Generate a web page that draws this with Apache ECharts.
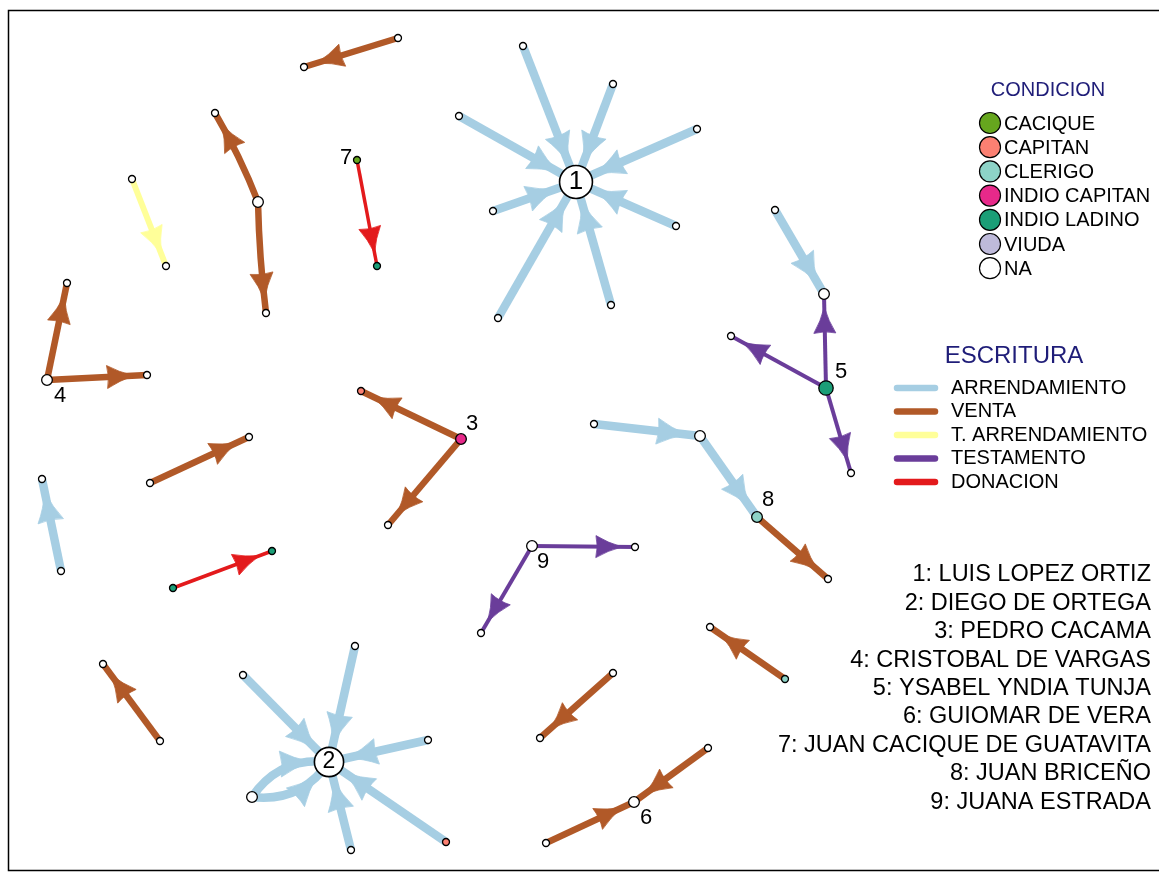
<!DOCTYPE html>
<html><head><meta charset="utf-8">
<script src="https://cdn.jsdelivr.net/npm/echarts@6/dist/echarts.min.js"></script>
<style>html,body{margin:0;padding:0;background:#fff}#c{width:1159px;height:876px}</style>
</head><body><div id="c"></div>
<script>
// ---------- DATA ----------
const nodeX = [576,523,613,459,697,493,676,498,611, 398,304, 258,215,266, 132,166, 357,377, 47,67,147, 150,249, 61,42, 173,272, 461,361,388, 160,103,
  329,243,355,428,252,351,446, 826,824,731,851,775, 594,700,757,828, 532,635,481, 785,710, 613,540, 634,708,546];
const nodeY = [182,46,84,116,129,211,226,318,305, 38,67, 202,113,313, 179,266, 160,266, 380,283,375, 483,437, 571,479, 588,551, 439,391,525, 741,664,
  762,675,646,740,797,850,842, 388,294,336,473,210, 424,436,517,579, 546,547,633, 679,627, 673,738, 802,748,843];
const nodeCond = ['NA','NA','NA','NA','NA','NA','NA','NA','NA', 'NA','NA', 'NA','NA','NA', 'NA','NA', 'CACIQUE','INDIO LADINO', 'NA','NA','NA', 'NA','NA', 'NA','NA',
  'INDIO LADINO','INDIO LADINO', 'INDIO CAPITAN','CAPITAN','NA', 'NA','NA',
  'NA','NA','NA','NA','NA','NA','CAPITAN', 'INDIO LADINO','NA','NA','NA','NA', 'NA','NA','CLERIGO','NA', 'NA','NA','NA', 'CLERIGO','NA', 'NA','NA', 'NA','NA','NA'];
const nodeLabel = ['1','','','','','','','','', '','', '','','', '','', '7','', '4','','', '','', '','', '','', '3','','', '','',
  '2','','','','','','', '5','','','','', '','','8','', '9','','', '','', '','', '6','',''];
const edgeSource = [1,2,3,4,5,6,7,8, 9, 11,11, 14, 16, 18,18, 21, 23, 25, 27,27, 30, 33,34,35,36,36,37,38, 39,39,39, 43, 44,45, 46, 48,48, 51, 53, 56,57];
const edgeTarget = [0,0,0,0,0,0,0,0, 10, 12,13, 15, 17, 19,20, 22, 24, 26, 28,29, 31, 32,32,32,32,32,32,32, 40,41,42, 40, 45,46, 47, 49,50, 52, 54, 55,55];
const edgeType = ['ARRENDAMIENTO','ARRENDAMIENTO','ARRENDAMIENTO','ARRENDAMIENTO','ARRENDAMIENTO','ARRENDAMIENTO','ARRENDAMIENTO','ARRENDAMIENTO',
  'VENTA', 'VENTA','VENTA', 'T. ARRENDAMIENTO', 'DONACION', 'VENTA','VENTA', 'VENTA', 'ARRENDAMIENTO', 'DONACION', 'VENTA','VENTA', 'VENTA',
  'ARRENDAMIENTO','ARRENDAMIENTO','ARRENDAMIENTO','ARRENDAMIENTO','ARRENDAMIENTO','ARRENDAMIENTO','ARRENDAMIENTO',
  'TESTAMENTO','TESTAMENTO','TESTAMENTO', 'ARRENDAMIENTO', 'ARRENDAMIENTO','ARRENDAMIENTO', 'VENTA', 'TESTAMENTO','TESTAMENTO', 'VENTA', 'VENTA', 'VENTA','VENTA'];
const edgeCurve = [0,0,0,0,0,0,0,0, 0, 0.04,0.025, 0, 0, 0,0, 0, 0, 0, 0,0, 0, 0,0,0,0.3,-0.3,0,0, 0,0,0, 0, 0,0, 0, 0,0, 0, 0, 0,0];
const condiciones = ['CACIQUE','CAPITAN','CLERIGO','INDIO CAPITAN','INDIO LADINO','VIUDA','NA'];
const escrituras = ['ARRENDAMIENTO','VENTA','T. ARRENDAMIENTO','TESTAMENTO','DONACION'];
const nombres = ['1: LUIS LOPEZ ORTIZ','2: DIEGO DE ORTEGA','3: PEDRO CACAMA','4: CRISTOBAL DE VARGAS','5: YSABEL YNDIA TUNJA',
  '6: GUIOMAR DE VERA','7: JUAN CACIQUE DE GUATAVITA','8: JUAN BRICEÑO','9: JUANA ESTRADA'];

// ---------- STYLES ----------
const condColor = {'CACIQUE':'#66a61e','CAPITAN':'#fb8072','CLERIGO':'#8dd3c7','INDIO CAPITAN':'#e7298a','INDIO LADINO':'#1b9e77','VIUDA':'#bebada','NA':'#ffffff'};
const typeStyle = {
  'ARRENDAMIENTO':   {color:'#a6cee3', w:8.5, al:30, ah:13},
  'VENTA':           {color:'#b15928', w:6.5, al:27, ah:11.5},
  'T. ARRENDAMIENTO':{color:'#ffff99', w:6,   al:27, ah:11.5},
  'TESTAMENTO':      {color:'#6a3d9a', w:4,   al:26, ah:11},
  'DONACION':        {color:'#e31a1c', w:3.5, al:26, ah:11}
};
const labelStyle = {
  '1':{off:[0,0],fs:26}, '2':{off:[0,0],fs:23}, '3':{off:[11,-15],fs:22}, '4':{off:[13,16],fs:22},
  '5':{off:[15,-16],fs:22}, '6':{off:[12,16],fs:22}, '7':{off:[-11,-2],fs:22}, '8':{off:[11,-17],fs:22}, '9':{off:[11,16],fs:22}
};
const FONT = '"Liberation Sans", Arial, Helvetica, sans-serif';
const NAVY = '#1f1d78';

const degree = nodeX.map(() => 0);
edgeSource.forEach((s, i) => { degree[s]++; degree[edgeTarget[i]]++; });
const nodeSize = i => 7 + 3.7 * (degree[i] - 1);

function renderEdge(params, api) {
  const i = params.dataIndex;
  const p0 = api.coord([api.value(0), api.value(1)]);
  const p2 = api.coord([api.value(2), api.value(3)]);
  const st = typeStyle[edgeType[i]];
  const curve = edgeCurve[i];
  const dx = p2[0] - p0[0], dy = p2[1] - p0[1];
  const len = Math.hypot(dx, dy);
  const c = [(p0[0] + p2[0]) / 2 - dy / len * curve * len, (p0[1] + p2[1]) / 2 + dx / len * curve * len];
  const bez = u => [(1-u)*(1-u)*p0[0] + 2*(1-u)*u*c[0] + u*u*p2[0], (1-u)*(1-u)*p0[1] + 2*(1-u)*u*c[1] + u*u*p2[1]];
  const der = u => [2*(1-u)*(c[0]-p0[0]) + 2*u*(p2[0]-c[0]), 2*(1-u)*(c[1]-p0[1]) + 2*u*(p2[1]-c[1])];
  const rT = nodeSize(edgeTarget[i]) / 2;
  const gap = Math.max(13, rT + 4);
  let u = 1;
  for (let k = 0; k < 400; k++) { const q = bez(u); if (Math.hypot(q[0]-p2[0], q[1]-p2[1]) >= gap) break; u -= 0.0025; }
  const tip = bez(u), d = der(u), dl = Math.hypot(d[0], d[1]);
  const ux = d[0]/dl, uy = d[1]/dl, px = -uy, py = ux;
  const L = st.al, H = st.ah;
  const b = [tip[0] - ux*L, tip[1] - uy*L];
  const bl = [b[0] + px*H, b[1] + py*H], br = [b[0] - px*H, b[1] - py*H];
  const cl = [tip[0] - ux*L*0.55 + px*H*0.36, tip[1] - uy*L*0.55 + py*H*0.36];
  const cr = [tip[0] - ux*L*0.55 - px*H*0.36, tip[1] - uy*L*0.55 - py*H*0.36];
  const bm = [b[0] + ux*L*0.1, b[1] + uy*L*0.1];
  const f = v => v[0].toFixed(2) + ' ' + v[1].toFixed(2);
  const linePath = curve === 0 ? `M ${f(p0)} L ${f(p2)}` : `M ${f(p0)} Q ${f(c)} ${f(p2)}`;
  const arrowPath = `M ${f(tip)} Q ${f(cl)} ${f(bl)} Q ${f(bm)} ${f(br)} Q ${f(cr)} ${f(tip)} Z`;
  return {
    type: 'group',
    children: [
      {type: 'path', shape: {pathData: linePath}, style: {fill: 'none', stroke: st.color, lineWidth: st.w, lineCap: 'butt'}},
      {type: 'path', shape: {pathData: arrowPath}, style: {fill: st.color, stroke: st.color, lineWidth: 0.8}}
    ]
  };
}

// ---------- GRAPHIC (frame + legends + names) ----------
const graphic = [
  {type: 'rect', shape: {x: 8.5, y: 10.5, width: 1200, height: 860}, style: {fill: 'none', stroke: '#000', lineWidth: 1.5}, z: 0},
  {type: 'text', x: 1048, y: 90, style: {text: 'CONDICION', fill: NAVY, font: '20px ' + FONT, textAlign: 'center', textVerticalAlign: 'middle'}}
];
condiciones.forEach((cName, k) => {
  const y = 123 + k * 24.2;
  graphic.push({type: 'circle', shape: {cx: 990, cy: y, r: 10.5}, style: {fill: condColor[cName], stroke: '#000', lineWidth: 1.2}});
  graphic.push({type: 'text', x: 1004, y: y + 1, style: {text: cName, fill: '#000', font: '20px ' + FONT, textAlign: 'left', textVerticalAlign: 'middle'}});
});
graphic.push({type: 'text', x: 1014, y: 356, style: {text: 'ESCRITURA', fill: NAVY, font: '24px ' + FONT, textAlign: 'center', textVerticalAlign: 'middle'}});
escrituras.forEach((eName, k) => {
  const y = 388 + k * 23.5;
  graphic.push({type: 'line', shape: {x1: 897, y1: y, x2: 935, y2: y}, style: {stroke: typeStyle[eName].color, lineWidth: 6.5, lineCap: 'round'}});
  graphic.push({type: 'text', x: 951, y: y, style: {text: eName, fill: '#000', font: '20px ' + FONT, textAlign: 'left', textVerticalAlign: 'middle'}});
});
nombres.forEach((n, k) => {
  graphic.push({type: 'text', x: 1151, y: 575 + k * 28.4, style: {text: n, fill: '#000', font: '23.5px ' + FONT, textAlign: 'right', textVerticalAlign: 'middle'}});
});

// ---------- CHART ----------
const chart = echarts.init(document.getElementById('c'), null, {renderer: 'canvas'});
chart.setOption({
  animation: false,
  backgroundColor: '#ffffff',
  grid: {left: 0, right: 0, top: 0, bottom: 0},
  xAxis: {type: 'value', min: 0, max: 1159, show: false},
  yAxis: {type: 'value', min: 0, max: 876, inverse: true, show: false},
  graphic: graphic,
  series: [
    {
      type: 'custom',
      name: 'escrituras',
      clip: false,
      z: 2,
      renderItem: renderEdge,
      encode: {x: [0, 2], y: [1, 3]},
      data: edgeSource.map((s, i) => [nodeX[s], nodeY[s], nodeX[edgeTarget[i]], nodeY[edgeTarget[i]]])
    },
    {
      type: 'scatter',
      name: 'personas',
      z: 3,
      clip: false,
      data: nodeX.map((x, i) => {
        const lab = nodeLabel[i];
        const ls = labelStyle[lab];
        return {
          value: [x, nodeY[i]],
          symbolSize: nodeSize(i),
          itemStyle: {color: condColor[nodeCond[i]], borderColor: '#000', borderWidth: degree[i] > 5 ? 1.6 : 1.3, opacity: 1},
          label: lab ? {show: true, formatter: lab, position: 'inside', offset: ls.off, color: '#000', fontSize: ls.fs, fontFamily: FONT} : {show: false}
        };
      })
    }
  ]
});
</script></body></html>
